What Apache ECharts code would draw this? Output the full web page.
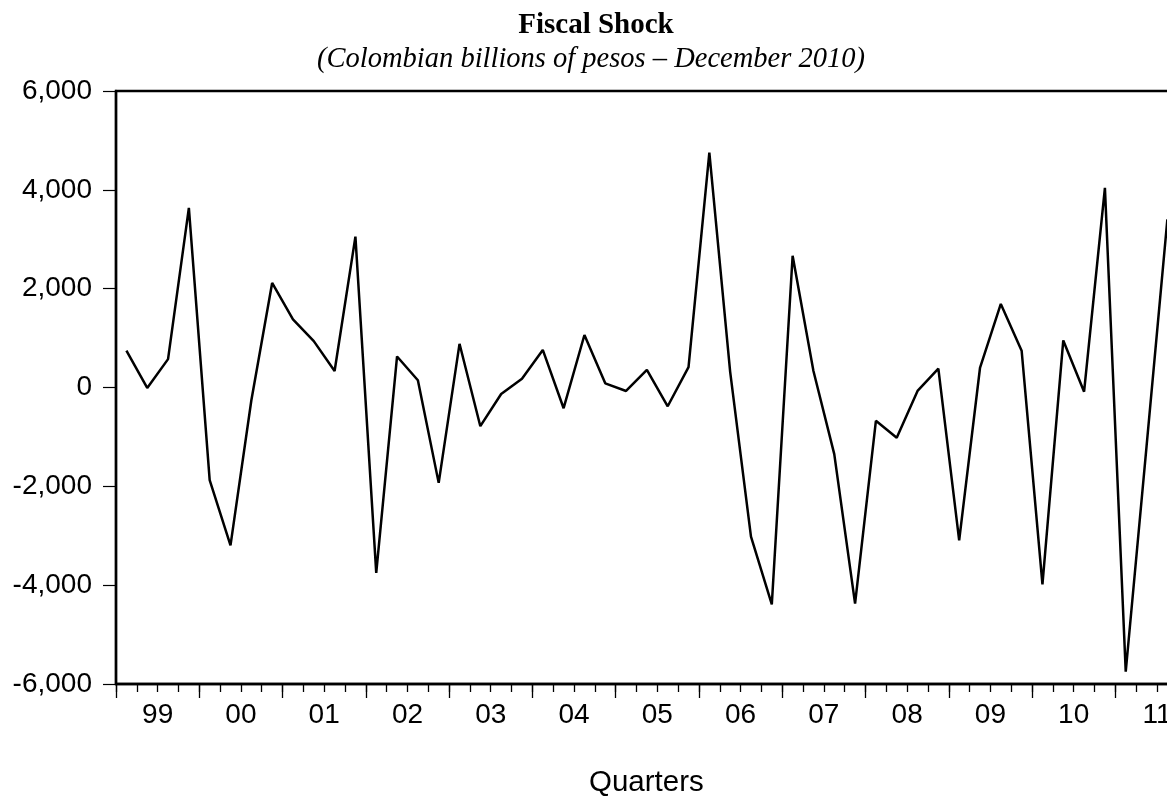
<!DOCTYPE html>
<html>
<head>
<meta charset="utf-8">
<script src="https://cdn.jsdelivr.net/npm/echarts@6/dist/echarts.min.js"></script>
<style>
html,body{margin:0;padding:0;background:#fff;overflow:hidden;}
#chart{width:1240px;height:796px;}
</style>
</head>
<body>
<div id="chart"></div>
<script>
// Quarterly categories 1999Q1 .. 2011Q4
const years = ['99','00','01','02','03','04','05','06','07','08','09','10','11'];
const fullYears = [1999,2000,2001,2002,2003,2004,2005,2006,2007,2008,2009,2010,2011];
const quarterNames = ['Q1','Q2','Q3','Q4'];
const quarters = [];
fullYears.forEach(function(y){ quarterNames.forEach(function(q){ quarters.push(y + q); }); });

// Fiscal shock values (Colombian billions of pesos), 1999Q1 .. 2011Q3
const fiscalShock = [
  744, -8, 574, 3636, -1876, -3194, -264, 2116, 1380, 938,
  333, 3054, -3752, 628, 147, -1930, 884, -783, -132, 178,
  760, -419, 1062, 85, -70, 357, -380, 411, 4752, 318,
  -3016, -4388, 2667, 333, -1349, -4372, -674, -1016, -70, 380,
  -3093, 395, 1690, 744, -3984, 953, -85, 4039, -5752, -1190, 3400
];

const titleText = 'Fiscal Shock';
const subtitleText = '(Colombian billions of pesos \u2013 December 2010)';
const xAxisName = 'Quarters';

const SERIF = "'Liberation Serif', 'Times New Roman', serif";
const SANS = "'Liberation Sans', Arial, sans-serif";

const chart = echarts.init(document.getElementById('chart'), null, {renderer: 'canvas'});
const option = {
  animation: false,
  backgroundColor: '#fff',
  title: [
    { text: titleText, left: 591, textAlign: 'center', top: 6,
      textStyle: { fontFamily: SERIF, fontWeight: 'bold', fontSize: 29, color: '#000' } },
    { text: subtitleText, left: 586, textAlign: 'center', top: 40,
      textStyle: { fontFamily: SERIF, fontStyle: 'italic', fontWeight: 'normal', fontSize: 28.5, color: '#000' } }
  ],
  grid: { left: 116, top: 91, width: 1082.6, height: 593, show: true, borderColor: '#000', borderWidth: 2.4, backgroundColor: 'transparent' },
  xAxis: [
    { type: 'category', data: quarters, boundaryGap: true, position: 'bottom',
      axisLine: { show: true, onZero: false, lineStyle: { color: '#000', width: 2.4 } },
      axisTick: { show: true, interval: 0, length: 8, lineStyle: { color: '#000', width: 1.3 } },
      axisLabel: { show: false }, splitLine: { show: false } },
    { type: 'category', data: years, boundaryGap: true, position: 'bottom',
      axisLine: { show: false, onZero: false },
      axisTick: { show: true, interval: 0, length: 14, lineStyle: { color: '#000', width: 1.3 } },
      axisLabel: { show: true, interval: 0, margin: 17, fontFamily: SANS, fontSize: 28, color: '#000' },
      splitLine: { show: false } }
  ],
  yAxis: {
    type: 'value', min: -6000, max: 6000, interval: 2000,
    axisLine: { show: true, onZero: false, lineStyle: { color: '#000', width: 2.4 } },
    axisTick: { show: true, length: 13, lineStyle: { color: '#000', width: 1.2 } },
    axisLabel: { margin: 24, fontFamily: SANS, fontSize: 28, color: '#000',
      formatter: function(v){ return v.toLocaleString('en-US'); } },
    splitLine: { show: false }
  },
  graphic: [
    { type: 'text', left: 589, top: 768,
      style: { text: xAxisName, font: "29.5px 'Liberation Sans', Arial, sans-serif", fill: '#000' } }
  ],
  series: [
    { type: 'line', data: fiscalShock, xAxisIndex: 0, yAxisIndex: 0,
      showSymbol: false, symbol: 'none',
      lineStyle: { color: '#000', width: 2.5 } }
  ]
};
chart.setOption(option);
</script>
</body>
</html>
